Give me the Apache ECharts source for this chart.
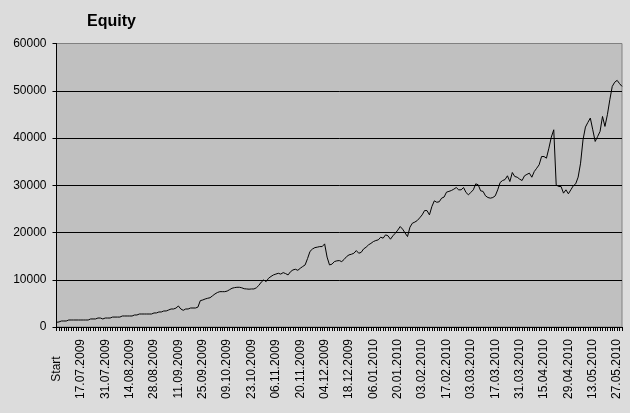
<!DOCTYPE html>
<html>
<head>
<meta charset="utf-8">
<script src="https://cdn.jsdelivr.net/npm/echarts@6/dist/echarts.min.js"></script>
<style>
html,body{margin:0;padding:0;background:#dcdcdc;}
#chart{width:630px;height:413px;}
</style>
</head>
<body>
<div id="chart"></div>
<script>
var tickLabels = ['Start','17.07.2009','31.07.2009','14.08.2009','28.08.2009','11.09.2009','25.09.2009','09.10.2009','23.10.2009','06.11.2009','20.11.2009','04.12.2009','18.12.2009','06.01.2010','20.01.2010','03.02.2010','17.02.2010','03.03.2010','17.03.2010','31.03.2010','15.04.2010','29.04.2010','13.05.2010','27.05.2010'];

var equity = [
1000,1060,1270,1270,1270,1480,1480,1480,1480,1480,
1480,1480,1480,1480,1700,1700,1700,1900,1900,1700,
1900,1900,1900,2100,2100,2100,2100,2330,2330,2330,
2330,2330,2540,2540,2750,2750,2750,2750,2750,2750,
2970,2970,3180,3180,3390,3390,3600,3810,3810,4000,
4450,3810,3530,3810,3810,4020,4020,4020,4200,5580,
5720,5930,6080,6200,6600,6990,7300,7480,7480,7480,
7600,7900,8200,8330,8400,8410,8300,8100,8050,8000,
8050,8050,8300,8800,9500,9960,9600,10320,10700,11020,
11200,11370,11200,11510,11300,11020,11700,12080,12220,12000,
12430,12800,13140,14500,16000,16500,16800,16900,17020,17020,
17590,14800,13140,13300,13840,14000,14060,13840,14300,14900,
15260,15400,15610,16170,15610,15800,16530,16880,17380,17700,
18080,18300,18440,19000,18800,19500,19300,18580,19290,19850,
20500,21260,20700,19900,19140,21120,21970,22200,22530,23100,
23730,24640,24640,23730,25500,26700,26400,26500,27270,27500,
28540,28700,28890,29170,29520,29030,29030,29520,28470,27970,
28500,29030,30300,30100,28820,28700,27760,27400,27270,27400,
27760,29030,30580,31000,31200,32000,30790,32700,31850,31700,
31300,31000,32000,32300,32560,31700,32900,33600,34330,36080,
36080,35730,37850,40190,41740,30080,29730,29730,28330,29030,
28190,29030,29880,30300,31710,34670,39620,42310,43300,44220,
41740,39270,40320,41390,44560,42450,44920,48100,50920,51800,
52200,51500,50920
];

var yTicks = [0,10000,20000,30000,40000,50000,60000];

var categories = equity.map(function(v,i){
  return (i % 10 === 0 && tickLabels[i/10] !== undefined) ? tickLabels[i/10] : '';
});

var font = 'Liberation Sans, Arial, sans-serif';
var chart = echarts.init(document.getElementById('chart'));
chart.setOption({
  backgroundColor: '#dcdcdc',
  animation: false,
  title: {
    text: 'Equity',
    left: 82, top: 9,
    textStyle: {fontFamily: font, fontSize: 16, fontWeight: 'bold', color: '#000'}
  },
  grid: {
    left: 56.5, right: 8, top: 43.5, bottom: 86,
    show: true, backgroundColor: '#c0c0c0', borderColor: '#808080', borderWidth: 1
  },
  xAxis: {
    type: 'category',
    data: categories,
    boundaryGap: false,
    axisLine: {lineStyle: {color: '#000', width: 1}},
    axisTick: {show: true, interval: 0, length: 4, lineStyle: {color: '#000'}},
    axisLabel: {
      interval: function(i){ return i % 10 === 0; },
      rotate: 90, align: 'center', verticalAlign: 'middle', margin: 42,
      fontFamily: font, fontSize: 12, color: '#000'
    },
    splitLine: {show: false}
  },
  yAxis: {
    type: 'value',
    min: yTicks[0], max: yTicks[yTicks.length-1], interval: 10000,
    axisLine: {show: true, lineStyle: {color: '#000', width: 1}},
    axisTick: {show: true, length: 4, lineStyle: {color: '#000'}},
    axisLabel: {fontFamily: font, fontSize: 12, color: '#000', margin: 10,
      formatter: function(v){ return String(v); }},
    splitLine: {show: true, lineStyle: {color: ['#000','#000','#000','#000','#000','#000','#808080'], width: 1}}
  },
  series: [{
    type: 'line',
    data: equity,
    showSymbol: false,
    symbol: 'none',
    lineStyle: {color: '#000', width: 1},
    z: 5
  }]
});
</script>
</body>
</html>
